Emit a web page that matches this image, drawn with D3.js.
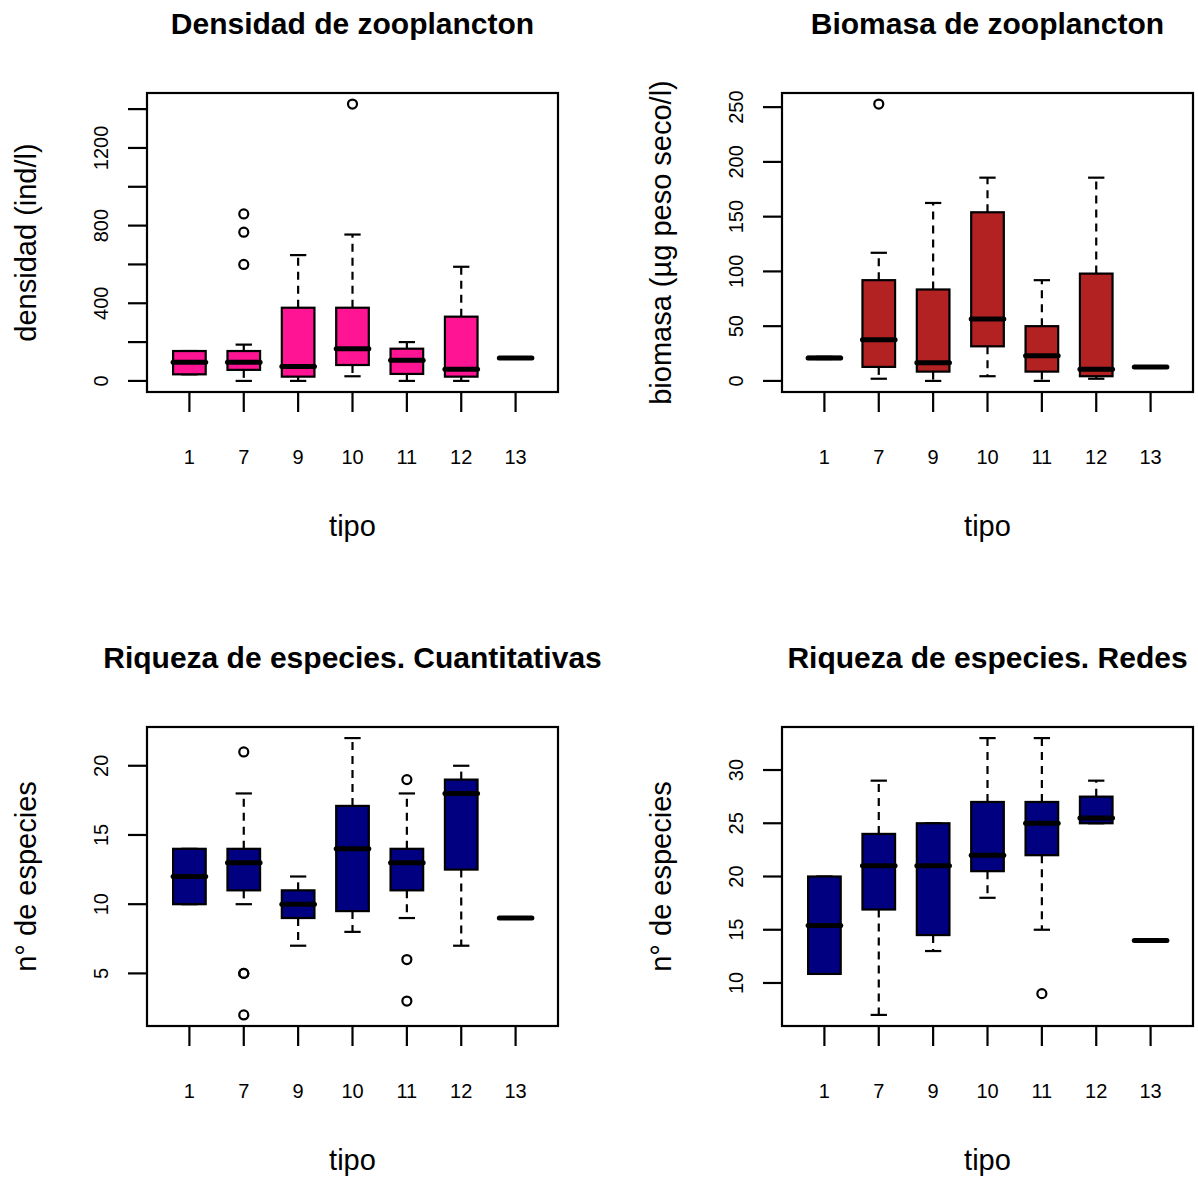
<!DOCTYPE html>
<html>
<head>
<meta charset="utf-8">
<script src="https://cdn.jsdelivr.net/npm/d3@7"></script>
<style>
  body { margin: 0; background: #fff; }
  text { font-family: "Liberation Sans", Arial, Helvetica, sans-serif; fill: #000; }
</style>
</head>
<body>
<svg id="chart" width="1198" height="1179"></svg>
<script>
// grupos (tipo)
const tipos = ["1", "7", "9", "10", "11", "12", "13"];

// Densidad de zooplancton (ind/l)
const densLow  = [34, 0, 0, 24, 0, 0, 118];
const densQ1   = [34, 57, 22, 82, 36, 22, 118];
const densMed  = [96, 96, 74, 166, 106, 60, 118];
const densQ3   = [154, 154, 377, 377, 166, 331, 118];
const densHigh = [154, 187, 648, 754, 200, 588, 118];
const densOut  = [[], [860, 766, 600], [], [1426], [], [], []];

// Biomasa de zooplancton (µg peso seco/l)
const bioLow  = [20, 2, 0, 4.3, 0, 2, 12.8];
const bioQ1   = [20, 12.8, 8.5, 31.6, 8.5, 4.3, 12.8];
const bioMed  = [21, 37.7, 16.7, 56.5, 23, 10.6, 12.8];
const bioQ3   = [22, 92, 83.5, 154, 50, 98, 12.8];
const bioHigh = [22, 117, 162.5, 185.6, 92, 185.6, 12.8];
const bioOut  = [[], [252.8], [], [], [], [], []];

// Riqueza de especies, cuantitativas
const cuantLow  = [10, 10, 7, 8, 9, 7, 9];
const cuantQ1   = [10, 11, 9, 9.5, 11, 12.5, 9];
const cuantMed  = [12, 13, 10, 14, 13, 18, 9];
const cuantQ3   = [14, 14, 11, 17.1, 14, 19, 9];
const cuantHigh = [14, 18, 12, 22, 18, 20, 9];
const cuantOut  = [[], [21, 5, 5, 2], [], [], [19, 6, 3], [], []];

// Riqueza de especies, redes
const redesLow  = [10.85, 7, 13, 18, 15, 25, 14];
const redesQ1   = [10.85, 16.9, 14.5, 20.5, 22, 25, 14];
const redesMed  = [15.4, 21, 21, 22, 25, 25.5, 14];
const redesQ3   = [20, 24, 25, 27, 27, 27.5, 14];
const redesHigh = [20, 29, 25, 33, 33, 29, 14];
const redesOut  = [[], [], [], [], [9], [], []];

// y ticks
const densTicks = [0, 200, 400, 600, 800, 1000, 1200, 1400];
const densTickLabels = [0, 400, 800, 1200];
const bioTicks = [0, 50, 100, 150, 200, 250];
const cuantTicks = [5, 10, 15, 20];
const redesTicks = [10, 15, 20, 25, 30];

function stats(low, q1, med, q3, high, out) {
  return tipos.map((t, i) => ({ tipo: t, low: low[i], q1: q1[i], med: med[i], q3: q3[i], high: high[i], out: out[i] }));
}

const panels = [
  { title: "Densidad de zooplancton", ylab: "densidad (ind/l)", color: "#FF1493",
    data: stats(densLow, densQ1, densMed, densQ3, densHigh, densOut),
    ticks: densTicks, labels: densTickLabels, x0: 147, x1: 558, y0: 93, y1: 392 },
  { title: "Biomasa de zooplancton", ylab: "biomasa (µg peso seco/l)", color: "#B22222",
    data: stats(bioLow, bioQ1, bioMed, bioQ3, bioHigh, bioOut),
    ticks: bioTicks, labels: bioTicks, x0: 782, x1: 1193, y0: 93, y1: 392 },
  { title: "Riqueza de especies. Cuantitativas", ylab: "n° de especies", color: "#000080",
    data: stats(cuantLow, cuantQ1, cuantMed, cuantQ3, cuantHigh, cuantOut),
    ticks: cuantTicks, labels: cuantTicks, x0: 147, x1: 558, y0: 727, y1: 1026 },
  { title: "Riqueza de especies. Redes", ylab: "n° de especies", color: "#000080",
    data: stats(redesLow, redesQ1, redesMed, redesQ3, redesHigh, redesOut),
    ticks: redesTicks, labels: redesTicks, x0: 782, x1: 1193, y0: 727, y1: 1026 }
];

const svg = d3.select("#chart");

panels.forEach(p => {
  const g = svg.append("g");

  // x: group index 1..7, range extended 4% like R
  const x = d3.scaleLinear().domain([0.22, 7.78]).range([p.x0, p.x1]);

  // y: data range extended 4%
  const all = p.data.flatMap(d => [d.low, d.high, ...d.out]);
  const lo = d3.min(all), hi = d3.max(all);
  const pad = (hi - lo) * 0.04;
  const y = d3.scaleLinear().domain([lo - pad, hi + pad]).range([p.y1, p.y0]);

  const boxW = x(1.6) - x(1);
  const capW = x(1.3) - x(1);

  const box = g.selectAll("g.box").data(p.data).enter().append("g").attr("class", "box");
  const cx = (d, i) => x(i + 1);

  // whiskers
  box.append("line")
    .attr("x1", cx).attr("x2", cx)
    .attr("y1", d => y(d.q3)).attr("y2", d => y(d.high))
    .attr("stroke", "#000").attr("stroke-width", 2.2).attr("stroke-dasharray", "8,6");
  box.append("line")
    .attr("x1", cx).attr("x2", cx)
    .attr("y1", d => y(d.q1)).attr("y2", d => y(d.low))
    .attr("stroke", "#000").attr("stroke-width", 2.2).attr("stroke-dasharray", "8,6");
  // staples
  box.append("line")
    .attr("x1", (d, i) => cx(d, i) - capW / 2).attr("x2", (d, i) => cx(d, i) + capW / 2)
    .attr("y1", d => y(d.high)).attr("y2", d => y(d.high))
    .attr("stroke", "#000").attr("stroke-width", 2.2);
  box.append("line")
    .attr("x1", (d, i) => cx(d, i) - capW / 2).attr("x2", (d, i) => cx(d, i) + capW / 2)
    .attr("y1", d => y(d.low)).attr("y2", d => y(d.low))
    .attr("stroke", "#000").attr("stroke-width", 2.2);
  // box
  box.append("rect")
    .attr("x", (d, i) => cx(d, i) - boxW / 2).attr("width", boxW)
    .attr("y", d => y(d.q3)).attr("height", d => y(d.q1) - y(d.q3))
    .attr("fill", p.color).attr("stroke", "#000").attr("stroke-width", 2.2);
  // median
  box.append("line")
    .attr("x1", (d, i) => cx(d, i) - boxW / 2).attr("x2", (d, i) => cx(d, i) + boxW / 2)
    .attr("y1", d => y(d.med)).attr("y2", d => y(d.med))
    .attr("stroke", "#000").attr("stroke-width", 5).attr("stroke-linecap", "round");
  // outliers
  box.each(function (d, i) {
    d3.select(this).selectAll("circle").data(d.out).enter().append("circle")
      .attr("cx", x(i + 1)).attr("cy", v => y(v)).attr("r", 4.5)
      .attr("fill", "none").attr("stroke", "#000").attr("stroke-width", 2.2);
  });

  // frame
  g.append("rect")
    .attr("x", p.x0).attr("y", p.y0)
    .attr("width", p.x1 - p.x0).attr("height", p.y1 - p.y0)
    .attr("fill", "none").attr("stroke", "#000").attr("stroke-width", 2.2);

  // y axis ticks + labels
  g.selectAll("line.yt").data(p.ticks).enter().append("line")
    .attr("x1", p.x0 - 19).attr("x2", p.x0)
    .attr("y1", d => y(d)).attr("y2", d => y(d))
    .attr("stroke", "#000").attr("stroke-width", 2.2);
  g.selectAll("text.yl").data(p.labels).enter().append("text")
    .attr("transform", d => `translate(${p.x0 - 46},${y(d)}) rotate(-90)`)
    .attr("text-anchor", "middle").attr("dominant-baseline", "central")
    .attr("font-size", 20).text(d => d);

  // x axis ticks + labels
  g.selectAll("line.xt").data(tipos).enter().append("line")
    .attr("x1", (d, i) => x(i + 1)).attr("x2", (d, i) => x(i + 1))
    .attr("y1", p.y1).attr("y2", p.y1 + 20)
    .attr("stroke", "#000").attr("stroke-width", 2.2);
  g.selectAll("text.xl").data(tipos).enter().append("text")
    .attr("x", (d, i) => x(i + 1)).attr("y", p.y1 + 72)
    .attr("text-anchor", "middle").attr("font-size", 20).text(d => d);

  // axis titles
  const mid = (p.x0 + p.x1) / 2;
  g.append("text")
    .attr("x", mid).attr("y", p.y1 + 144)
    .attr("text-anchor", "middle").attr("font-size", 29).text("tipo");
  g.append("text")
    .attr("transform", `translate(${p.x0 - 111},${(p.y0 + p.y1) / 2}) rotate(-90)`)
    .attr("text-anchor", "middle").attr("font-size", 29).text(p.ylab);

  // main title
  g.append("text")
    .attr("x", mid).attr("y", p.y0 - 59)
    .attr("text-anchor", "middle").attr("font-size", 30).attr("font-weight", "bold")
    .text(p.title);
});
</script>
</body>
</html>
